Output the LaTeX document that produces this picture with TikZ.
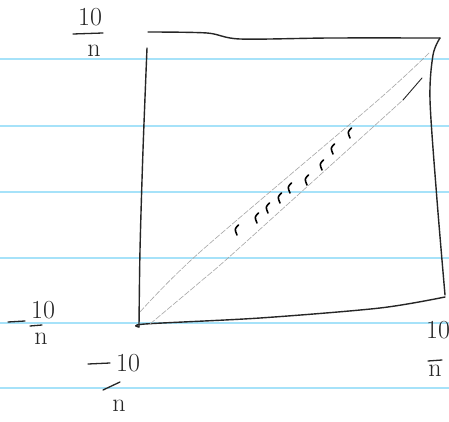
\documentclass[tikz,border=0pt]{standalone}
\begin{document}
\begin{tikzpicture}[x=1pt,y=-1pt,
  ruled/.style={draw=cyan!35!white, line width=1.1pt},
  ink/.style={draw=black!85, line width=1.4pt, line cap=round, line join=round},
  faint/.style={draw=black!35, line width=0.6pt, dash pattern=on 6pt off 1.5pt},
  tick/.style={draw=black, line width=1.6pt, line cap=round},
  lbl/.style={inner sep=0pt, text=black!85, font=\fontsize{26}{26}\selectfont},
  bar/.style={draw=black!85, line width=1.3pt, line cap=round}]
\useasboundingbox (0,0) rectangle (449,422);
\fill[white] (0,0) rectangle (449,422);
% ruled paper lines
\foreach \yy in {59,126,192,258,323,388} \draw[ruled] (0,\yy) -- (449,\yy);
% square
\draw[ink] plot[smooth] coordinates {(148,32) (207,33) (240,39) (330,38) (440,38)};
\draw[ink] plot[smooth] coordinates {(440,38) (433,55) (430,100) (437,200) (445,295)};
\draw[ink] plot[smooth] coordinates {(147,48) (143,150) (140,250) (139,327)};
\draw[ink] plot[smooth] coordinates {(139,327) (145,324) (260,318) (380,308) (445,297)};
% band
\draw[faint] plot[smooth] coordinates {(140,312) (200,252) (377,101) (430,52)};
\draw[faint] plot[smooth] coordinates {(150,324) (200,282) (237,250) (404,99)};
\draw[ink, line width=0.9pt] (403,100) -- (422,78);
% ticks inside band
\foreach \px/\py in {237/230,257/218,268/208,280/198,290/188,307/180,322/165,333/149,350/133}
  \draw[tick] (\px+1.5,\py-5) .. controls (\px-2.5,\py-1) .. (\px,\py+5);
% labels
\node[lbl] (tn) at (90,17) {10};
\draw[bar] (73,34) -- (103,33);
\node[lbl] (td) at (94,51) {n};
\draw[bar] (8,322) -- (25,321);
\node[lbl] (ln) at (43,310) {10};
\draw[bar] (30,326) -- (42,325);
\node[lbl] (ld) at (41,339) {n};
\draw[bar] (88,364) -- (110,363);
\node[lbl] (bn) at (128,363) {10};
\draw[bar] (103,390) -- (120,382);
\node[lbl] (bd) at (119,406) {n};
\node[lbl, anchor=west] (rn) at (426,330) {10};
\draw[bar] (428,361) -- (442,360);
\node[lbl] (rd) at (435,371) {n};
\end{tikzpicture}
\end{document}
